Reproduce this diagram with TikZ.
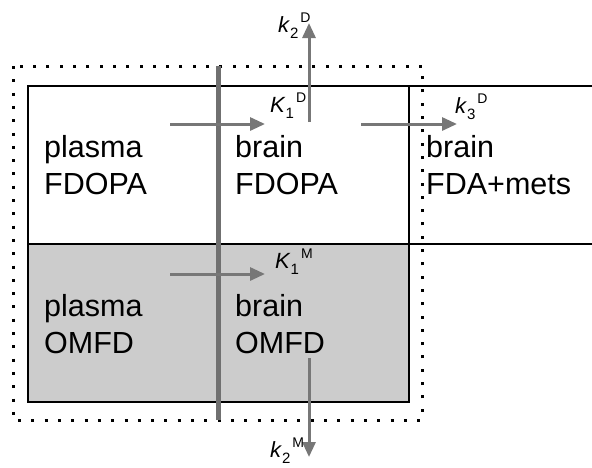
\documentclass[tikz,border=0pt]{standalone}
\usepackage{fontspec}
\setmainfont{Liberation Sans}
\usetikzlibrary{arrows.meta}
\definecolor{arrowgray}{HTML}{777777}
\definecolor{membgray}{HTML}{707070}
\definecolor{boxfill}{HTML}{CCCCCC}
\newcommand{\ratelabel}[3]{\textit{#1}\raisebox{-6pt}{\fontsize{15}{15}\selectfont #2}\hspace{2pt}\raisebox{9.5pt}{\fontsize{14}{14}\selectfont #3}}
\tikzset{
  celltext/.style={anchor=base west, inner sep=0pt, align=left, font=\fontsize{30.5}{37}\selectfont},
  ratetext/.style={anchor=base west, inner sep=0pt, font=\fontsize{22}{24}\selectfont},
  flow/.style={draw=arrowgray, line width=3pt, -{Triangle[length=15pt,width=13pt]}},
  wall/.style={draw=black, line width=2.8pt},
  membrane/.style={draw=membgray, line width=5pt},
  region/.style={draw=black, line width=3pt, dash pattern=on 3pt off 10.3pt}
}
\begin{document}
\begin{tikzpicture}[x=1pt,y=-1pt]
\useasboundingbox (0,0) rectangle (592,467);
% grey OMFD row
\fill[boxfill] (28,244) rectangle (409,402);
% box outlines
\draw[wall] (592,86) -- (28,86) -- (28,402) -- (409,402) -- (409,86);
\draw[wall] (28,244) -- (592,244);
% dotted region
\draw[region] (13,66) rectangle (422,420);
% membrane
\draw[membrane] (218,66) -- (218,420);
% texts (anchored at the baseline of the second line)
\node[celltext] (pF) at (44,194) {plasma\\FDOPA};
\node[celltext] (bF) at (235,194) {brain\\FDOPA};
\node[celltext] (bM) at (426,194) {brain\\FDA+mets};
\node[celltext] (pO) at (44,353) {plasma\\OMFD};
\node[celltext] (bO) at (235,353) {brain\\OMFD};
% arrow endpoints
\coordinate (k1ds) at (170,124);
\coordinate (k1de) at (265,124);
\coordinate (k1ms) at (170,274);
\coordinate (k1me) at (265,274);
\coordinate (k3ds) at (361,124);
\coordinate (k3de) at (457,124);
\coordinate (k2ds) at (309,122);
\coordinate (k2de) at (309,23);
\coordinate (k2ms) at (309,358);
\coordinate (k2me) at (309,457);
\draw[flow] (k1ds) -- (k1de);
\draw[flow] (k1ms) -- (k1me);
\draw[flow] (k3ds) -- (k3de);
\draw[flow] (k2ds) -- (k2de);
\draw[flow] (k2ms) -- (k2me);
% labels
\node[ratetext] (lK1D) at (270,112) {\ratelabel{K}{1}{D}};
\node[ratetext] (lk2D) at (278,32) {\ratelabel{k}{2}{D}};
\node[ratetext] (lk3D) at (455,113) {\ratelabel{k}{3}{D}};
\node[ratetext] (lK1M) at (275,268) {\ratelabel{K}{1}{M}};
\node[ratetext] (lk2M) at (270,457) {\ratelabel{k}{2}{M}};
\end{tikzpicture}
\end{document}
